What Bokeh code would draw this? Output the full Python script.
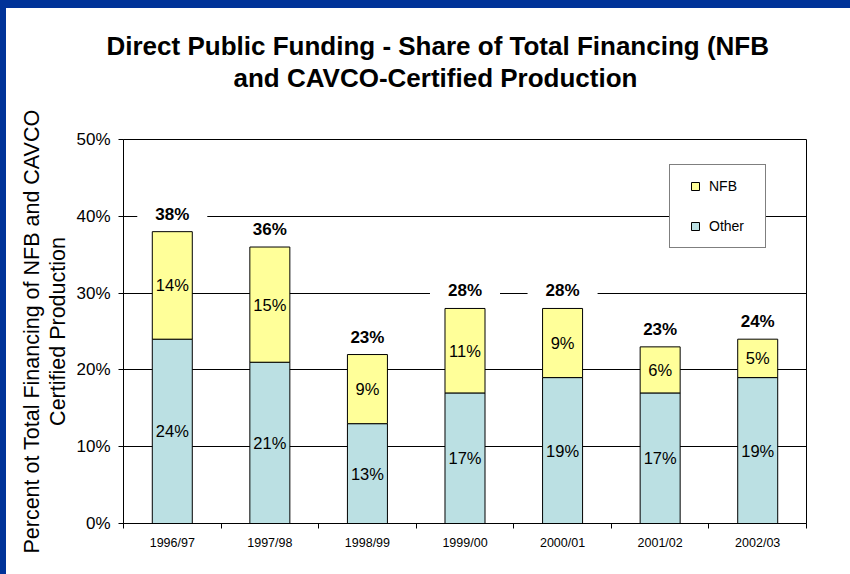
import numpy as np
from bokeh.plotting import figure
from bokeh.models import (ColumnDataSource, Range1d, FixedTicker, CustomJSTickFormatter,
                          Title, Legend, LegendItem)
from bokeh.core.properties import value
from bokeh.embed import file_html
from bokeh.resources import INLINE

# ---------------- data ----------------
title_lines = ["Direct Public Funding - Share of Total Financing (NFB",
               "and CAVCO-Certified Production"]
ylabel_lines = ["Percent ot Total Financing of NFB and CAVCO",
                "Certified Production"]
years = ["1996/97", "1997/98", "1998/99", "1999/00", "2000/01", "2001/02", "2002/03"]
other = [24, 21, 13, 17, 19, 17, 19]
nfb = [14, 15, 9, 11, 9, 6, 5]
total_labels = ["38%", "36%", "23%", "28%", "28%", "23%", "24%"]
y_ticks = [0, 10, 20, 30, 40, 50]
series_names = ["NFB", "Other"]

# ---------------- styles ----------------
FONT = "Liberation Sans"
YELLOW = "#FFFF99"
BLUE = "#BBE0E3"
FRAME_BLUE = "#003399"

x = np.arange(len(years)) + 0.5
other_a = np.array(other, dtype=float)
nfb_a = np.array(nfb, dtype=float)
top_a = other_a + nfb_a

src = ColumnDataSource(dict(
    x=x,
    other=other_a,
    top=top_a,
    other_mid=other_a / 2.0,
    nfb_mid=other_a + nfb_a / 2.0,
    other_lbl=[f"{v}%" for v in other],
    nfb_lbl=[f"{v}%" for v in nfb],
    total_lbl=total_labels,
))

p = figure(width=834, height=558,
           x_range=Range1d(0, len(years)), y_range=Range1d(0, 50),
           output_backend="svg", toolbar_location=None, title=None,
           min_border_left=115, min_border_right=36,
           min_border_top=131, min_border_bottom=43)

p.background_fill_color = "white"
p.border_fill_color = "white"
p.outline_line_color = "black"
p.outline_line_width = 1

p.xgrid.visible = False
p.ygrid.ticker = FixedTicker(ticks=y_ticks)
p.ygrid.grid_line_color = "black"
p.ygrid.grid_line_width = 1

# y axis
ya = p.yaxis[0]
ya.ticker = FixedTicker(ticks=y_ticks)
ya.formatter = CustomJSTickFormatter(code="return tick.toFixed(0) + '%';")
ya.major_tick_out = 5
ya.major_tick_in = 0
ya.minor_tick_line_color = None
ya.axis_line_color = "black"
ya.major_tick_line_color = "black"
ya.major_label_text_font = FONT
ya.major_label_text_font_size = "17px"
ya.major_label_text_color = "black"
ya.major_label_standoff = 8
ya.axis_label = "\n".join(ylabel_lines)
ya.axis_label_text_font = FONT
ya.axis_label_text_font_size = "21.5px"
ya.axis_label_text_font_style = "normal"
ya.axis_label_text_color = "black"
ya.axis_label_text_line_height = 1.12
ya.axis_label_standoff = 3

# x axis (labels at centres, ticks at category boundaries)
xa = p.xaxis[0]
xa.ticker = FixedTicker(ticks=list(x), minor_ticks=list(range(len(years) + 1)))
xa.formatter = CustomJSTickFormatter(args=dict(cats=years),
                                     code="return cats[Math.floor(tick)];")
xa.major_tick_out = 0
xa.major_tick_in = 0
xa.major_tick_line_color = None
xa.minor_tick_out = 5
xa.minor_tick_in = 0
xa.minor_tick_line_color = "black"
xa.axis_line_color = "black"
xa.major_label_text_font = FONT
xa.major_label_text_font_size = "12.5px"
xa.major_label_text_color = "black"
xa.major_label_standoff = 7

# bars
BAR_W = 0.41
p.vbar(x="x", width=BAR_W, bottom=0, top="other", source=src,
       fill_color=BLUE, line_color="black", line_width=1)
p.vbar(x="x", width=BAR_W, bottom="other", top="top", source=src,
       fill_color=YELLOW, line_color="black", line_width=1)

# segment labels
for ycol, tcol in (("other_mid", "other_lbl"), ("nfb_mid", "nfb_lbl")):
    p.text(x="x", y=ycol, text=tcol, source=src,
           text_font=value(FONT), text_font_size="16.5px", text_color="black",
           text_align="center", text_baseline="middle")

# total labels
p.text(x="x", y="top", text="total_lbl", source=src,
       text_font=value(FONT), text_font_size="17px", text_font_style="bold",
       text_color="black", text_align="center", text_baseline="alphabetic",
       y_offset=-17, background_fill_color="white",
       padding=dict(left=18, right=18, top=0, bottom=1))

# legend (proxy swatches, never visible in the plot area)
r_nfb = p.scatter(x=[np.nan], y=[np.nan], marker="square", size=8,
                  fill_color=YELLOW, line_color="black")
r_oth = p.scatter(x=[np.nan], y=[np.nan], marker="square", size=8,
                  fill_color=BLUE, line_color="black")
legend = Legend(items=[LegendItem(label=series_names[0], renderers=[r_nfb]),
                       LegendItem(label=series_names[1], renderers=[r_oth])],
                location=(546, 275), orientation="vertical",
                padding=11, spacing=20, margin=0,
                glyph_width=28, glyph_height=20, label_height=20,
                label_width=45, label_standoff=0,
                label_text_font=FONT, label_text_font_size="14px",
                label_text_color="black",
                border_line_color="black", border_line_width=1,
                background_fill_color="white", background_fill_alpha=1.0)
p.add_layout(legend)

# title: spacer + two lines (later-added titles sit further from the frame)
p.add_layout(Title(text=" ", text_font_size="10px", standoff=34), "above")
p.add_layout(Title(text=title_lines[1], align="left", offset=110,
                   vertical_align="bottom", standoff=0,
                   text_font=FONT, text_font_size="26px",
                   text_font_style="bold", text_color="black"), "above")
p.add_layout(Title(text=title_lines[0], align="left", offset=-17,
                   vertical_align="bottom", standoff=0,
                   text_font=FONT, text_font_size="26px",
                   text_font_style="bold", text_color="black"), "above")

html = file_html(p, INLINE)
css = ("<style>html,body{margin:0;padding:0;}"
       "body{margin:8px;background-color:white;"
       f"background-image:linear-gradient({FRAME_BLUE},{FRAME_BLUE}),"
       f"linear-gradient({FRAME_BLUE},{FRAME_BLUE});"
       "background-size:100% 8px,6px 100%;background-repeat:no-repeat;"
       "background-position:0 0,0 0;overflow:hidden;}</style>")
html = html.replace("</head>", css + "</head>", 1)
open("out.html", "w").write(html)
